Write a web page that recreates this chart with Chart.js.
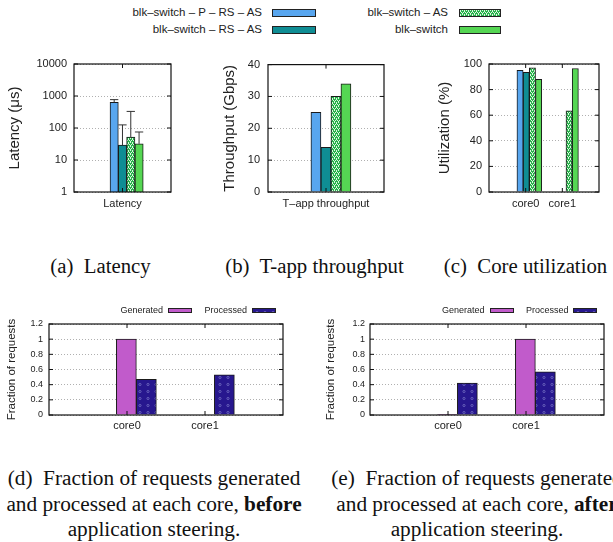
<!DOCTYPE html>
<html>
<head>
<meta charset="utf-8">
<script src="https://cdn.jsdelivr.net/npm/chart.js@4.4.0/dist/chart.umd.min.js"></script>
<style>
html, body { margin: 0; padding: 0; background: #fff; }
body { width: 613px; height: 542px; position: relative; overflow: hidden; font-family: "Liberation Sans", Arial, sans-serif; color: #222; }
canvas { position: absolute; }
.lg { position: absolute; width: 220px; text-align: right; white-space: nowrap; }
.sw { position: absolute; box-sizing: border-box; border: 1px solid #222; }
.cap { position: absolute; width: 300px; font-family: "Liberation Serif", "Times New Roman", serif; font-size: 20.8px; line-height: 25.5px; color: #111; text-align: center; white-space: nowrap; }
.cap.low { font-size: 21.3px; }
</style>
</head>
<body>

<canvas id="latency" width="200" height="165" style="left:0;top:50px"></canvas>
<canvas id="throughput" width="210" height="165" style="left:200px;top:50px"></canvas>
<canvas id="util" width="203" height="165" style="left:410px;top:50px"></canvas>
<canvas id="before" width="300" height="145" style="left:0;top:290px"></canvas>
<canvas id="after" width="313" height="145" style="left:300px;top:290px"></canvas>

<div class="cap" style="left:-49.5px;top:253px">(a)&nbsp; Latency</div>
<div class="cap" style="left:164.5px;top:253px">(b)&nbsp; T-app throughput</div>
<div class="cap" style="left:375.5px;top:253px">(c)&nbsp; Core utilization</div>
<div class="cap low" style="left:4px;top:466px">(d)&nbsp; Fraction of requests generated<br>and processed at each core, <b>before</b><br>application steering.</div>
<div class="cap low" style="left:327px;top:466px">(e)&nbsp; Fraction of requests generated<br>and processed at each core, <b>after</b><br>application steering.</div>

<script>
// series / categories
const seriesNames = ['blk–switch – P – RS – AS', 'blk–switch – RS – AS', 'blk–switch – AS', 'blk–switch'];
const latencyCats = ['Latency'];
const latencyAvg = [630, 29, 52, 32];
const latencyErr = [770, 125, 330, 75];
const throughputCats = ['T–app throughput'];
const throughputGbps = [25, 14, 30, 34];
const coreCats = ['core0', 'core1'];
const utilPRSAS = [95, 0];
const utilRSAS = [93.5, 0];
const utilAS = [97, 63.5];
const utilBlk = [88, 96.5];
const reqNames = ['Generated', 'Processed'];
const genBefore = [1.0, 0];
const procBefore = [0.47, 0.53];
const genAfter = [0.005, 1.0];
const procAfter = [0.42, 0.57];
const latencyTicks = [1, 10, 100, 1000, 10000];

const FONT = '"Liberation Sans", Arial, sans-serif';
const INK = '#222';

function tile(w, h, paint) {
    const c = document.createElement('canvas');
    c.width = w; c.height = h;
    paint(c.getContext('2d'));
    return c;
}

const greenTile = tile(4, 4, g => {
    g.fillStyle = '#26b24a'; g.fillRect(0, 0, 4, 4);
    g.fillStyle = '#dcf6df';
    g.fillRect(0, 0, 1, 1); g.fillRect(2, 0, 1, 1);
    g.fillRect(1, 2, 1, 1); g.fillRect(3, 2, 1, 1);
    g.fillRect(0, 1, 1, 1); g.fillRect(2, 3, 1, 1);
});
const navyTile = tile(8, 7, g => {
    g.fillStyle = '#27178e'; g.fillRect(0, 0, 8, 7);
    g.strokeStyle = '#7d78c8'; g.lineWidth = 0.7;
    g.beginPath(); g.arc(4, 3.5, 1.1, 0, Math.PI * 2); g.stroke();
});

const ctxTmp = document.createElement('canvas').getContext('2d');
const fills = [
    '#58a6ef',
    '#0f8d94',
    ctxTmp.createPattern(greenTile, 'repeat'),
    '#55d653'
];
const swatchCss = ['#58a6ef', '#0f8d94', 'url(' + greenTile.toDataURL() + ')', '#55d653'];
const reqFills = ['#c15bcb', ctxTmp.createPattern(navyTile, 'repeat')];
const reqCss = ['#c15bcb', 'url(' + navyTile.toDataURL() + ')'];

// gnuplot style box with inward ticks
const frame = {
    id: 'frame',
    afterDraw(chart) {
        const { ctx, chartArea: a, scales } = chart;
        ctx.save();
        ctx.strokeStyle = '#111';
        ctx.lineWidth = 1.2;
        ctx.strokeRect(a.left, a.top, a.right - a.left, a.bottom - a.top);
        ctx.lineWidth = 1;
        ctx.beginPath();
        scales.y.ticks.forEach(t => {
            const py = scales.y.getPixelForValue(t.value);
            ctx.moveTo(a.left, py); ctx.lineTo(a.left + 4, py);
            ctx.moveTo(a.right, py); ctx.lineTo(a.right - 4, py);
        });
        scales.x.ticks.forEach(t => {
            const px = scales.x.getPixelForValue(t.value);
            ctx.moveTo(px, a.top); ctx.lineTo(px, a.top + 4);
            ctx.moveTo(px, a.bottom); ctx.lineTo(px, a.bottom - 4);
        });
        ctx.stroke();
        ctx.restore();
    }
};

const errBars = {
    id: 'errBars',
    afterDatasetsDraw(chart) {
        const ctx = chart.ctx, y = chart.scales.y;
        chart.data.datasets.forEach((ds, i) => {
            if (!ds.errHigh) return;
            chart.getDatasetMeta(i).data.forEach((bar, j) => {
                const top = y.getPixelForValue(ds.errHigh[j]);
                const half = bar.width / 2;
                ctx.save();
                ctx.strokeStyle = '#333';
                ctx.lineWidth = 1;
                ctx.beginPath();
                ctx.moveTo(bar.x, bar.y); ctx.lineTo(bar.x, top);
                ctx.moveTo(bar.x - half, top); ctx.lineTo(bar.x + half, top);
                ctx.stroke();
                ctx.restore();
            });
        });
    }
};

function makeSets(names, colors, values, shift, thick, errs) {
    return names.map((name, i) => ({
        label: name,
        data: values[i].map((v, k) => ({ x: k + shift, y: v })),
        backgroundColor: colors[i],
        borderColor: '#1a1a1a',
        borderWidth: 1,
        barThickness: thick,
        errHigh: errs ? [errs[i]] : undefined
    }));
}

function panel(id, o) {
    return new Chart(document.getElementById(id), {
        type: 'bar',
        data: { datasets: o.datasets },
        options: {
            responsive: false,
            animation: false,
            layout: { padding: { top: o.top, right: o.right, left: 0, bottom: 0 } },
            plugins: { legend: { display: false }, tooltip: { enabled: false } },
            scales: {
                x: {
                    type: 'linear', min: -1, max: o.xMax, offset: false,
                    grid: { display: false, drawTicks: false }, border: { display: false },
                    afterBuildTicks: s => { s.ticks = o.cats.map((_, i) => ({ value: i })); },
                    ticks: {
                        callback: v => o.cats[v], padding: o.xPad, maxRotation: 0, autoSkip: false,
                        font: { family: FONT, size: 11 }, color: INK
                    },
                    afterFit: s => { s.height = o.xH; }
                },
                y: {
                    type: o.log ? 'logarithmic' : 'linear',
                    min: o.yMin, max: o.yMax,
                    afterBuildTicks: o.log ? (s => { s.ticks = latencyTicks.map(v => ({ value: v })); }) : undefined,
                    grid: { color: '#b0b0b0', lineWidth: 1, drawTicks: false },
                    border: { display: false, dash: [1, 2] },
                    ticks: {
                        stepSize: o.step, padding: o.yPad,
                        font: { family: FONT, size: o.yFont }, color: INK,
                        callback: v => String(+Number(v).toFixed(1))
                    },
                    title: {
                        display: true, text: o.title, color: INK,
                        font: { family: FONT, size: o.titleFont },
                        padding: { top: o.titlePad, bottom: 0 }
                    },
                    afterFit: s => { s.width = o.yW; }
                }
            }
        },
        plugins: [frame, errBars]
    });
}

panel('latency', {
    datasets: makeSets(seriesNames, fills, latencyAvg.map(v => [v]), 0.085, 8.3, latencyErr),
    cats: latencyCats, xMax: 1, log: true, yMin: 1, yMax: 10000,
    title: 'Latency (μs)', titleFont: 15, titlePad: 6, yFont: 11, yPad: 7,
    top: 14, right: 29, yW: 74, xH: 23, xPad: 5
});

panel('throughput', {
    datasets: makeSets(seriesNames, fills, throughputGbps.map(v => [v]), 0.085, 10),
    cats: throughputCats, xMax: 1, yMin: 0, yMax: 40, step: 10,
    title: 'Throughput (Gbps)', titleFont: 15, titlePad: 21, yFont: 11, yPad: 8,
    top: 14, right: 26, yW: 68, xH: 23, xPad: 5
});

panel('util', {
    datasets: makeSets(seriesNames, fills, [utilPRSAS, utilRSAS, utilAS, utilBlk], 0.1, 6.2),
    cats: coreCats, xMax: 2, yMin: 0, yMax: 100, step: 20,
    title: 'Utilization (%)', titleFont: 15, titlePad: 26, yFont: 11, yPad: 7,
    top: 14, right: 14, yW: 79, xH: 23, xPad: 5
});

panel('before', {
    datasets: makeSets(reqNames, reqFills, [genBefore, procBefore], 0.12, 20),
    cats: coreCats, xMax: 2, yMin: 0, yMax: 1.2, step: 0.2,
    title: 'Fraction of requests', titleFont: 11.5, titlePad: 5, yFont: 9, yPad: 6,
    top: 34, right: 17, yW: 49, xH: 20, xPad: 4
});

panel('after', {
    datasets: makeSets(reqNames, reqFills, [genAfter, procAfter], 0.12, 20),
    cats: coreCats, xMax: 2, yMin: 0, yMax: 1.2, step: 0.2,
    title: 'Fraction of requests', titleFont: 11.5, titlePad: 24, yFont: 9, yPad: 5,
    top: 34, right: 9, yW: 70, xH: 20, xPad: 4
});

// legends, drawn as gnuplot does: text, then sample box
function legendItem(text, rightX, cy, size, swX, swW, swH, bg) {
    const t = document.createElement('div');
    t.className = 'lg';
    t.textContent = text;
    t.style.fontSize = size + 'px';
    t.style.lineHeight = (size * 1.2) + 'px';
    t.style.left = (rightX - 220) + 'px';
    t.style.top = (cy - size * 0.6) + 'px';
    document.body.appendChild(t);
    const s = document.createElement('div');
    s.className = 'sw';
    s.style.left = swX + 'px';
    s.style.top = (cy - swH / 2) + 'px';
    s.style.width = swW + 'px';
    s.style.height = swH + 'px';
    s.style.background = bg;
    document.body.appendChild(s);
}

legendItem(seriesNames[0], 262, 12.5, 11.5, 272, 44, 8, swatchCss[0]);
legendItem(seriesNames[1], 262, 30, 11.5, 272, 44, 8, swatchCss[1]);
legendItem(seriesNames[2], 448, 12.5, 11.5, 459, 42, 8, swatchCss[2]);
legendItem(seriesNames[3], 448, 30, 11.5, 459, 42, 8, swatchCss[3]);

legendItem(reqNames[0], 163, 310, 9, 168, 24, 5, reqCss[0]);
legendItem(reqNames[1], 247, 310, 9, 252, 24, 5, reqCss[1]);
legendItem(reqNames[0], 484.5, 310, 9, 490, 24, 5, reqCss[0]);
legendItem(reqNames[1], 568.5, 310, 9, 573, 24, 5, reqCss[1]);
</script>
</body>
</html>
